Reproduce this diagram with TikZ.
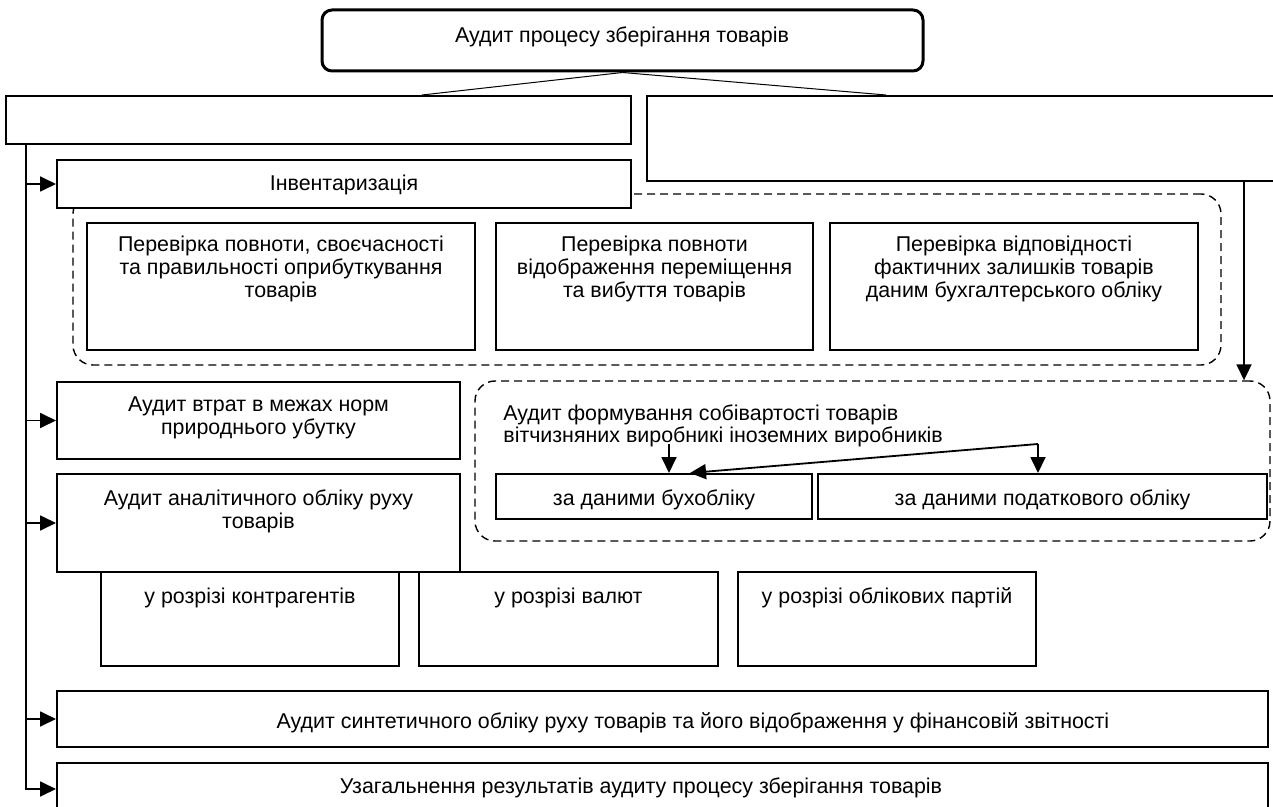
\documentclass[tikz,border=0pt]{standalone}
\usepackage{fontspec}
\setmainfont{Liberation Sans}
\usetikzlibrary{arrows.meta}
\usetikzlibrary{calc}
\usetikzlibrary{fit}
\tikzset{
	box/.style={draw, line width=1pt, fill=white, inner sep=0pt},
	group/.style={draw, line width=0.7pt, dash pattern=on 4pt off 2.5pt, rounded corners=10pt, inner sep=0pt},
	txt/.style={font=\fontsize{10.7}{11.5}\selectfont, align=center, inner sep=0pt},
	edge/.style={-{Triangle[length=8pt,width=7.5pt]}, line width=0.9pt},
	tie/.style={line width=0.5pt}
}
\begin{document}
\begin{tikzpicture}[x=0.5pt, y=-0.5pt]
	\clip (0,0) rectangle (1273,807);
	
	\node[box, line width=1.5pt, rounded corners=5pt, fit={(322,10) (923,71)}] (audit) {};
	\node[txt, anchor=base] (auditt) at (622,42.5) {Аудит процесу зберігання товарів};
	
	\node[box, fit={(6,96) (631,144)}] (lbox) {};
	\node[box, fit={(647,96) (1300,181)}] (rbox) {};
	
	\node[group, fit={(73,194) (1221,365)}] (check) {};
	\node[group, fit={(475,381) (1270,541)}] (cost) {};
	
	\node[box, fit={(57,160) (631,208)}] (inv) {};
	\node[txt, anchor=base] (invt) at (344,190.5) {Інвентаризація};
	
	\node[box, fit={(87,223) (475,350)}] (chka) {};
	\node[txt, anchor=north] (chkat) at (281,236) {Перевірка повноти, своєчасності\\та правильності оприбуткування\\товарів};
	\node[box, fit={(496,223) (813,350)}] (chkb) {};
	\node[txt, anchor=north] (chkbt) at (654.5,236) {Перевірка повноти\\відображення переміщення\\та вибуття товарів};
	\node[box, fit={(830,223) (1198,350)}] (chkc) {};
	\node[txt, anchor=north] (chkct) at (1014,236) {Перевірка відповідності\\фактичних залишків товарів\\даним бухгалтерського обліку};
	
	\node[box, fit={(57,382) (460,459)}] (loss) {};
	\node[txt, anchor=north] (losst) at (258.5,396) {Аудит втрат в межах норм\\природнього убутку};
	
	\node[txt, anchor=north west, align=left, font=\fontsize{10.7}{9.5}\selectfont] (costt) at (503,404) {Аудит формування собівартості товарів\\вітчизняних виробникі іноземних виробників};
	\node[box, fit={(496,474) (812,519)}] (acct) {};
	\node[txt, anchor=base] (acctt) at (654,505.5) {за даними бухобліку};
	\node[box, fit={(818,474) (1267,519)}] (tax) {};
	\node[txt, anchor=base] (taxt) at (1042.5,505.5) {за даними податкового обліку};
	
	\node[box, fit={(57,474) (460,572)}] (anal) {};
	\node[txt, anchor=north] (analt) at (258.5,489) {Аудит аналітичного обліку руху\\товарів};
	\node[box, fit={(101,572) (399,666)}] (cp) {};
	\node[txt, anchor=base] (cpt) at (250,603.5) {у розрізі контрагентів};
	\node[box, fit={(419,572) (718,666)}] (cur) {};
	\node[txt, anchor=base] (curt) at (568.5,603.5) {у розрізі валют};
	\node[box, fit={(738,572) (1036,666)}] (lot) {};
	\node[txt, anchor=base] (lott) at (887,603.5) {у розрізі облікових партій};
	
	\node[box, fit={(57,691) (1268,747)}] (synth) {};
	\node[txt, anchor=base] (syntht) at (693,728.5) {Аудит синтетичного обліку руху товарів та його відображення у фінансовій звітності};
	\node[box, fit={(57,763) (1268,815)}] (sum) {};
	\node[txt, anchor=base] (sumt) at (641,793.5) {Узагальнення результатів аудиту процесу зберігання товарів};
	
	\draw[tie] (audit.south) -- ($(lbox.north west)+(417,0)$);
	\draw[tie] (audit.south) -- ($(rbox.north west)+(240,0)$);
	
	\coordinate (trunk) at ($(lbox.south west)+(21,0)$);
	\draw[edge] (trunk) |- (sum.west);
	\foreach \n in {inv, loss, anal, synth}
		\draw[edge] (trunk |- \n.west) -- (\n.west);
	
	\coordinate (drop) at ($(rbox.south west)+(598,0)$);
	\draw[edge] (drop) -- (drop |- cost.north);
	
	\coordinate (fork) at (1038,444);
	\coordinate (pick) at (669,444);
	\draw[edge] (pick) -- (pick |- acct.north);
	\draw[edge] (fork) -- (fork |- tax.north);
	\draw[edge] (fork) -- ($(acct.north)+(36,0)$);
\end{tikzpicture}
\end{document}
